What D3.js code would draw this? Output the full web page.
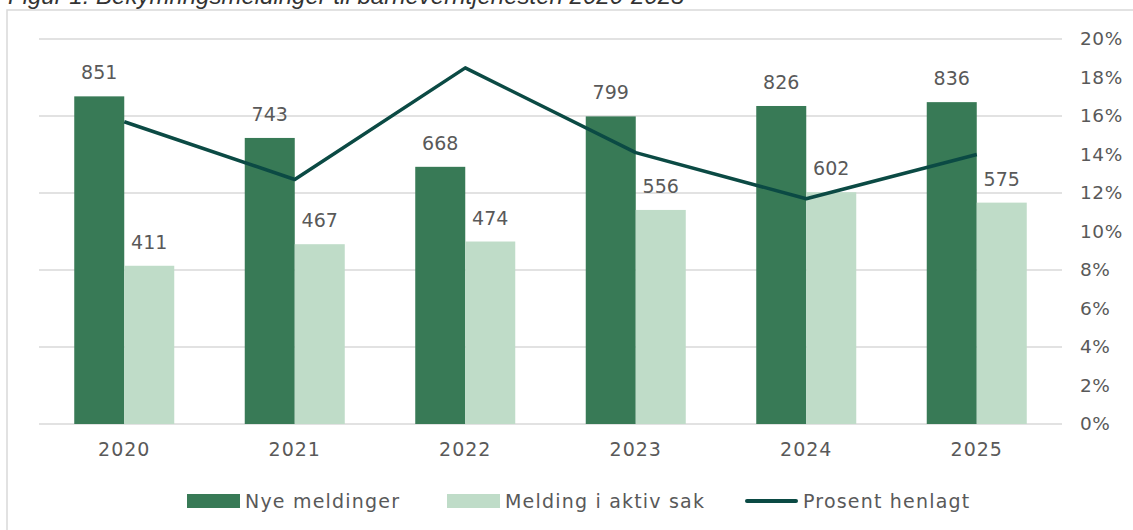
<!DOCTYPE html>
<html><head><meta charset="utf-8">
<script src="https://cdn.jsdelivr.net/npm/d3@7"></script>
<style>body{margin:0;background:#fff;}svg{display:block;}</style>
</head><body>
<svg id="c" width="1133" height="530"></svg>
<script>
const years = ["2020","2021","2022","2023","2024","2025"];
const nyeMeldinger = [851, 743, 668, 799, 826, 836];
const meldingAktivSak = [411, 467, 474, 556, 602, 575];
const prosentHenlagt = [0.157, 0.127, 0.185, 0.141, 0.117, 0.140];
const seriesNames = ["Nye meldinger", "Melding i aktiv sak", "Prosent henlagt"];
const rightTicks = [0,0.02,0.04,0.06,0.08,0.10,0.12,0.14,0.16,0.18,0.20];
const leftTicks = [0,200,400,600,800,1000];

const colDark = "#387a56", colLight = "#bfdcc8", colLine = "#0b4a44", txt = "#595959";
const font = "'DejaVu Sans', sans-serif";
const svg = d3.select("#c");

// frame and title
svg.append("rect").attr("x",7).attr("y",10).attr("width",1140).attr("height",540)
  .attr("fill","none").attr("stroke","#d9d9d9").attr("stroke-width",1.5);
svg.append("text").attr("x",8).attr("y",4).attr("font-family","'Liberation Sans', Arial, sans-serif")
  .attr("font-style","italic").attr("font-size",24).attr("fill","#333")
  .text("Figur 1. Bekymringsmeldinger til barneverntjenesten 2020-2025");

const x = d3.scaleBand().domain(years).range([39,1062]).paddingInner(0).paddingOuter(0);
const yL = d3.scaleLinear().domain([0,1000]).range([424,39]);
const yR = d3.scaleLinear().domain([0,0.20]).range([424,39]);
const sub = d3.scaleBand().domain([0,1]).range([-50,50]);

// gridlines
svg.append("g").selectAll("line").data(leftTicks).join("line")
  .attr("x1",39).attr("x2",1062).attr("y1",d=>yL(d)).attr("y2",d=>yL(d))
  .attr("stroke","#d9d9d9").attr("stroke-width",1.5);

// right axis
const axR = svg.append("g").attr("transform","translate(1062,0)")
  .call(d3.axisRight(yR).tickValues(rightTicks).tickFormat(d3.format(".0%")).tickSize(0).tickPadding(18));
axR.select(".domain").remove();
axR.selectAll("text").attr("font-family",font).attr("font-size",18.5).attr("letter-spacing",0.6).attr("fill",txt);

// x axis
const axX = svg.append("g").attr("transform","translate(0,424)")
  .call(d3.axisBottom(x).tickSize(0).tickPadding(19));
axX.select(".domain").remove();
axX.selectAll("text").attr("font-family",font).attr("font-size",19).attr("letter-spacing",1).attr("fill",txt);

const bars = [nyeMeldinger, meldingAktivSak];
const cols = [colDark, colLight];
bars.forEach((vals,si)=>{
  const g = svg.append("g");
  g.selectAll("rect").data(vals).join("rect")
    .attr("x",(d,i)=>x(years[i])+x.bandwidth()/2+sub(si))
    .attr("width",sub.bandwidth())
    .attr("y",d=>yL(d)).attr("height",d=>yL(0)-yL(d))
    .attr("fill",cols[si]);
  g.selectAll("text").data(vals).join("text")
    .attr("x",(d,i)=>x(years[i])+x.bandwidth()/2+sub(si)+sub.bandwidth()/2)
    .attr("y",d=>yL(d)-17).attr("text-anchor","middle")
    .attr("font-family",font).attr("font-size",19).attr("fill",txt).text(d=>d);
});

// line
const line = d3.line().x((d,i)=>x(years[i])+x.bandwidth()/2).y(d=>yR(d));
svg.append("path").datum(prosentHenlagt).attr("d",line).attr("fill","none")
  .attr("stroke",colLine).attr("stroke-width",3.5).attr("stroke-linejoin","round");

// legend
const lg = svg.append("g");
const items = [{x:187,t:"rect",c:colDark},{x:447,t:"rect",c:colLight},{x:745,t:"line",c:colLine}];
items.forEach((it,i)=>{
  if(it.t==="rect") lg.append("rect").attr("x",it.x).attr("y",494).attr("width",53).attr("height",14).attr("fill",it.c);
  else lg.append("line").attr("x1",it.x+2).attr("x2",it.x+51).attr("y1",501).attr("y2",501)
    .attr("stroke",it.c).attr("stroke-width",4).attr("stroke-linecap","round");
  lg.append("text").attr("x",it.x+58).attr("y",501).attr("dy","0.35em")
    .attr("font-family",font).attr("font-size",19).attr("letter-spacing",1.2).attr("fill",txt).text(seriesNames[i]);
});
</script>
</body></html>
